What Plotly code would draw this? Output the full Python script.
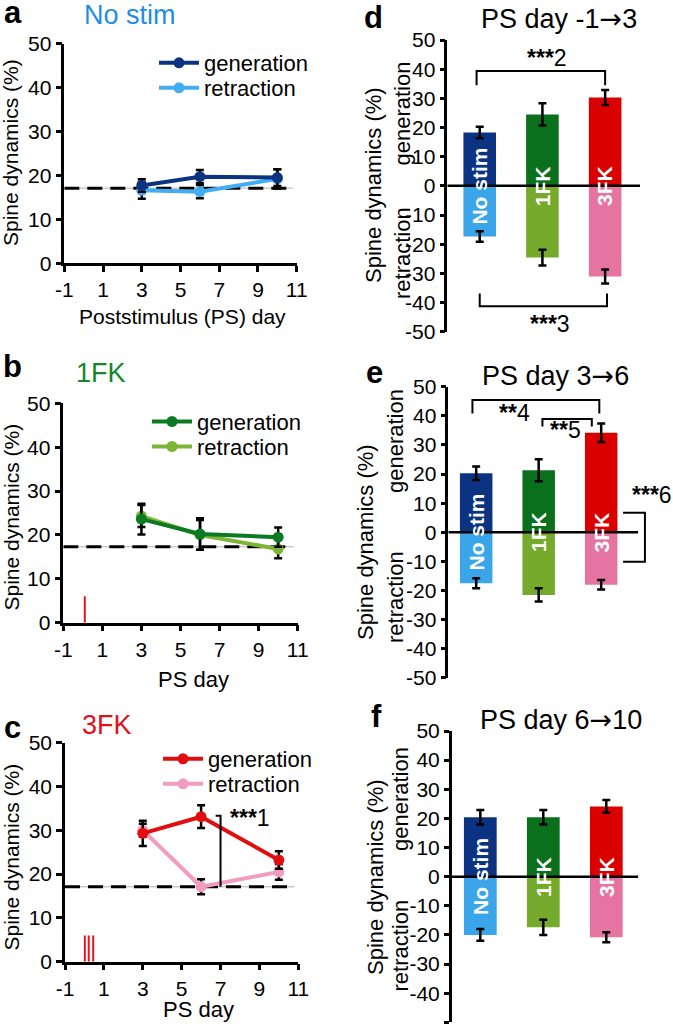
import plotly.graph_objects as go

W, H = 673, 1031

# ---------------- data ----------------
days = [3, 6, 10]
day_ticks = [-1, 1, 3, 5, 7, 9, 11]
bar_ticks = [-50, -40, -30, -20, -10, 0, 10, 20, 30, 40, 50]
line_ticks = [0, 10, 20, 30, 40, 50]

# panel a (No stim)
a_gen = [17.7, 19.7, 19.5]
a_gen_err = [1.4, 1.5, 1.9]
a_ret = [16.6, 16.3, 19.2]
a_ret_err = [1.9, 1.5, 2.2]
# panel b (1FK)
b_gen = [23.6, 20.2, 19.5]
b_gen_err = [3.5, 3.6, 2.2]
b_ret = [24.3, 20.0, 16.8]
b_ret_err = [2.5, 3.4, 2.1]
# panel c (3FK)
c_gen = [29.3, 33.1, 23.2]
c_gen_err = [2.9, 2.6, 2.0]
c_ret = [30.0, 17.1, 20.5]
c_ret_err = [1.5, 1.7, 1.8]

baseline = [17.1, 17.3, 17.1]
stim_1fk = [0.1]
stim_3fk = [0.02, 0.22, 0.45]
stim_height = 6

groups = ["No stim", "1FK", "3FK"]
# panel d (PS day -1 -> 3)
d_gen = [18.3, 24.5, 30.3]
d_gen_err = [2.0, 3.8, 2.6]
d_ret = [-17.4, -24.6, -31.1]
d_ret_err = [1.8, 2.7, 2.4]
# panel e (PS day 3 -> 6)
e_gen = [20.3, 21.3, 34.2]
e_gen_err = [2.3, 3.8, 3.2]
e_ret = [-17.5, -21.5, -18.0]
e_ret_err = [1.7, 2.3, 1.6]
# panel f (PS day 6 -> 10)
f_gen = [20.4, 20.4, 24.1]
f_gen_err = [2.5, 2.5, 2.2]
f_ret = [-20.0, -17.4, -20.8]
f_ret_err = [2.0, 2.6, 1.7]

# colours
gen_cols = ["#0b3382", "#0a701c", "#da0000"]
ret_cols = ["#3aa6e9", "#76aa2c", "#e674a1"]
line_gen_cols = ["#0b3382", "#0b7a22", "#e00e0e"]
line_ret_cols = ["#42aef1", "#7db536", "#f29cc0"]
title_cols = ["#1e8de6", "#15872a", "#e3101a"]

FONT = "Liberation Sans, Arial, Helvetica, sans-serif"


def px(x):
    return x / W


def py(y):
    return 1 - y / H


fig = go.Figure()

# ---------------- line panels ----------------
line_panels = [
    dict(ax="", gen=a_gen, ge=a_gen_err, ret=a_ret, re=a_ret_err, lg="legend", lr="legend4"),
    dict(ax="2", gen=b_gen, ge=b_gen_err, ret=b_ret, re=b_ret_err, lg="legend2", lr="legend5"),
    dict(ax="3", gen=c_gen, ge=c_gen_err, ret=c_ret, re=c_ret_err, lg="legend3", lr="legend6"),
]
for i, p in enumerate(line_panels):
    xa, ya = "x" + p["ax"], "y" + p["ax"]
    fig.add_trace(go.Scatter(
        x=days, y=p["ret"], mode="lines+markers", name="retraction",
        line=dict(color=line_ret_cols[i], width=4),
        marker=dict(size=11, color=line_ret_cols[i]),
        error_y=dict(type="data", array=p["re"], color="black", thickness=2.5, width=4),
        xaxis=xa, yaxis=ya, legend=p["lr"], cliponaxis=False))
    fig.add_trace(go.Scatter(
        x=days, y=p["gen"], mode="lines+markers", name="generation",
        line=dict(color=line_gen_cols[i], width=4),
        marker=dict(size=11, color=line_gen_cols[i]),
        error_y=dict(type="data", array=p["ge"], color="black", thickness=2.5, width=4),
        xaxis=xa, yaxis=ya, legend=p["lg"], cliponaxis=False))

# stimulation marks
for stims, ax in [(stim_1fk, "2"), (stim_3fk, "3")]:
    sx, sy = [], []
    for s in stims:
        sx += [s, s, None]
        sy += [0, stim_height, None]
    fig.add_trace(go.Scatter(x=sx, y=sy, mode="lines", line=dict(color="#e8141c", width=2),
                             showlegend=False, xaxis="x" + ax, yaxis="y" + ax, hoverinfo="skip"))

# ---------------- bar panels ----------------
bar_panels = [
    dict(ax="4", gen=d_gen, ge=d_gen_err, ret=d_ret, re=d_ret_err),
    dict(ax="5", gen=e_gen, ge=e_gen_err, ret=e_ret, re=e_ret_err),
    dict(ax="6", gen=f_gen, ge=f_gen_err, ret=f_ret, re=f_ret_err),
]
xcat = [0, 1, 2]
for p in bar_panels:
    xa, ya = "x" + p["ax"], "y" + p["ax"]
    fig.add_trace(go.Bar(x=xcat, y=p["gen"], width=0.52, marker=dict(color=gen_cols, line=dict(width=0)),
                         error_y=dict(type="data", array=p["ge"], color="black", thickness=2.5, width=4),
                         showlegend=False, xaxis=xa, yaxis=ya))
    fig.add_trace(go.Bar(x=xcat, y=p["ret"], width=0.52, marker=dict(color=ret_cols, line=dict(width=0)),
                         error_y=dict(type="data", array=p["re"], color="black", thickness=2.5, width=4),
                         showlegend=False, xaxis=xa, yaxis=ya))

# ---------------- axes ----------------
axis_common = dict(showgrid=False, showline=True, linecolor="black", linewidth=2.5,
                   ticks="outside", ticklen=6, tickwidth=2.5, tickcolor="black",
                   tickfont=dict(family=FONT, size=21, color="black"), zeroline=False)

line_dom = [
    (64.3, 296.7, 43.5, 263.3),
    (63.3, 297.7, 403.3, 622.7),
    (65.0, 298.3, 742.7, 961.7),
]
layout_axes = {}
for i, (x0, x1, ytop, ybot) in enumerate(line_dom):
    s = "" if i == 0 else str(i + 1)
    layout_axes["xaxis" + s] = dict(axis_common, domain=[px(x0), px(x1)], range=[-1, 11],
                                    tickvals=day_ticks, ticktext=[str(v) for v in day_ticks],
                                    anchor="y" + s)
    layout_axes["yaxis" + s] = dict(axis_common, domain=[py(ybot), py(ytop)], range=[0, 50],
                                    tickvals=line_ticks, ticktext=[str(v) for v in line_ticks],
                                    anchor="x" + s)

bar_dom = [
    # x0px, x1px, xrange, ytop, ybot
    (447.3, 640.0, [-0.517, 2.556], 40.0, 331.7),
    (448.3, 673.0, [-0.446, 3.149], 386.7, 677.9),
    (451.7, 638.3, [-0.454, 2.508], 731.0, 1022.3),
]
for j, (x0, x1, xr, ytop, ybot) in enumerate(bar_dom):
    s = str(j + 4)
    layout_axes["xaxis" + s] = dict(domain=[px(x0), px(x1)], range=xr, visible=False,
                                    anchor="y" + s, fixedrange=True)
    layout_axes["yaxis" + s] = dict(axis_common, domain=[py(ybot), py(ytop)], range=[-50, 50],
                                    tickvals=bar_ticks, ticktext=[str(v) for v in bar_ticks],
                                    anchor="x" + s, ticklen=5)

# ---------------- shapes ----------------
shapes = []
# baselines (thin grey + dashed black)
for i, s in enumerate(["", "2", "3"]):
    shapes.append(dict(type="line", xref="x" + s, yref="y" + s, x0=-1, x1=10.8,
                       y0=baseline[i], y1=baseline[i], line=dict(color="#b0b0b0", width=1), layer="below"))
    shapes.append(dict(type="line", xref="x" + s, yref="y" + s, x0=-1, x1=10.5,
                       y0=baseline[i], y1=baseline[i], line=dict(color="black", width=3, dash="15px,8px"),
                       layer="below"))

# zero lines of bar panels
zero_end = [2.556, 2.59, 2.508]
for j, s in enumerate(["4", "5", "6"]):
    shapes.append(dict(type="line", xref="x" + s, yref="y" + s, x0=bar_dom[j][2][0], x1=zero_end[j],
                       y0=0, y1=0, line=dict(color="black", width=2.5)))


def bracket(xref, yref, xa, xb, ytop, yend):
    return dict(type="path", xref=xref, yref=yref,
                path=f"M {xa},{yend} L {xa},{ytop} L {xb},{ytop} L {xb},{yend}",
                line=dict(color="black", width=2))


# significance brackets
d_brackets = [(-0.05, 2.0, 39.4, 34.5), (0.0, 2.03, -41.3, -36.9)]
e_brackets = [(-0.06, 1.97, 45.4, 40.8), (1.06, 1.85, 38.9, 36.3)]
for b in d_brackets:
    shapes.append(bracket("x4", "y4", *b))
for b in e_brackets:
    shapes.append(bracket("x5", "y5", *b))
# side bracket in e (gen vs ret of 3FK)
e_side = (2.35, 2.70, 6.75, -10.1)
shapes.append(dict(type="path", xref="x5", yref="y5",
                   path=f"M {e_side[0]},{e_side[2]} L {e_side[1]},{e_side[2]} L {e_side[1]},{e_side[3]} L {e_side[0]},{e_side[3]}",
                   line=dict(color="black", width=2)))
# bracket in c
c_br = (6.75, 7.0, 33.3, 17.1)
shapes.append(dict(type="path", xref="x3", yref="y3",
                   path=f"M {c_br[0]},{c_br[2]} L {c_br[1]},{c_br[2]} L {c_br[1]},{c_br[3]}",
                   line=dict(color="black", width=2)))

# ---------------- annotations ----------------
ann = []


def text(x, y, t, size=21, color="black", bold=False, angle=0, xref="paper", yref="paper",
         xanchor="center", yanchor="middle"):
    ann.append(dict(x=x, y=y, xref=xref, yref=yref, text=("<b>%s</b>" % t) if bold else t,
                    showarrow=False, textangle=angle, xanchor=xanchor, yanchor=yanchor,
                    font=dict(family=FONT, size=size, color=color)))


# panel letters
for lt, (x, y) in zip("abcdef", [(12.5, 12.5), (12.5, 366), (12.5, 727.5), (373, 17), (374, 372.5), (376, 716.5)]):
    text(px(x), py(y), lt, size=31, bold=True)

ARROW = '<span style="font-family:DejaVu Sans">→</span>'
# panel titles
text(px(130), py(15), "No stim", size=27, color=title_cols[0])
text(px(100.5), py(372.5), "1FK", size=27, color=title_cols[1])
text(px(106.5), py(725), "3FK", size=27, color=title_cols[2])
text(px(558.5), py(19), "PS day -1" + ARROW + "3", size=27)
text(px(555), py(376), "PS day 3" + ARROW + "6", size=27)
text(px(561), py(719), "PS day 6" + ARROW + "10", size=27)

# line-panel axis titles
text(px(183), py(316), "Poststimulus (PS) day", size=21)
text(px(193), py(679), "PS day", size=22)
text(px(198), py(1009), "PS day", size=22)
for yc in [152.5, 517, 857]:
    text(px(10.5), py(yc), "Spine dynamics (%)", size=21, angle=-90)

# bar-panel axis titles
bar_titles = [(373, 185, 402, 113.5, 253), (365, 542, 395, 441, 597), (375, 877, 400, 799, 945.5)]
for (sx, sy, gx, gy, ry) in bar_titles:
    text(px(sx), py(sy), "Spine dynamics (%)", size=22, angle=-90)
    text(px(gx), py(gy), "generation", size=22, angle=-90)
    text(px(gx), py(ry), "retraction", size=22, angle=-90)

# bar labels
for s in ["4", "5", "6"]:
    for k, g in enumerate(groups):
        text(xcat[k], 0, g, size=21, color="white", bold=True, angle=-90, xref="x" + s, yref="y" + s)

# significance labels
sig = [("x4", 1.07, 43.7, "***", "2"), ("x4", 1.12, -47.2, "***", "3"),
       ("x5", 0.62, 41.1, "**", "4"), ("x5", 1.43, 35.1, "**", "5"),
       ("x5", 2.81, 12.8, "***", "6"), ("x3", 8.54, 32.9, "***", "1")]
for xr, x, y, stars, n in sig:
    yr = "y" + xr[1:]
    text(x, y, "<b>%s</b>%s" % (stars, n), size=23, xref=xr, yref=yr)

legend_common = dict(xanchor="left", yanchor="middle", bgcolor="rgba(0,0,0,0)",
                     font=dict(family=FONT, size=22, color="black"), itemwidth=40,
                     tracegroupgap=0, borderwidth=0)

# legend rows: (left px, row centre px)
leg_pos = {
    "legend": (154, 63), "legend4": (154, 88),
    "legend2": (147, 421.7), "legend5": (147, 446.7),
    "legend3": (158, 759), "legend6": (158, 784),
}
legends = {k: dict(legend_common, x=px(v[0]), y=py(v[1])) for k, v in leg_pos.items()}

fig.update_layout(
    width=W, height=H, margin=dict(l=0, r=0, t=0, b=0, pad=0, autoexpand=False),
    paper_bgcolor="white", plot_bgcolor="rgba(0,0,0,0)",
    barmode="overlay", showlegend=True,
    font=dict(family=FONT, color="black"),
    shapes=shapes, annotations=ann,
    **legends,
    **layout_axes,
)

fig.write_html("out.html", config={"displayModeBar": False},
               post_script="document.body.style.margin='0';document.body.style.padding='0';"
                           "document.body.style.overflow='hidden';")
